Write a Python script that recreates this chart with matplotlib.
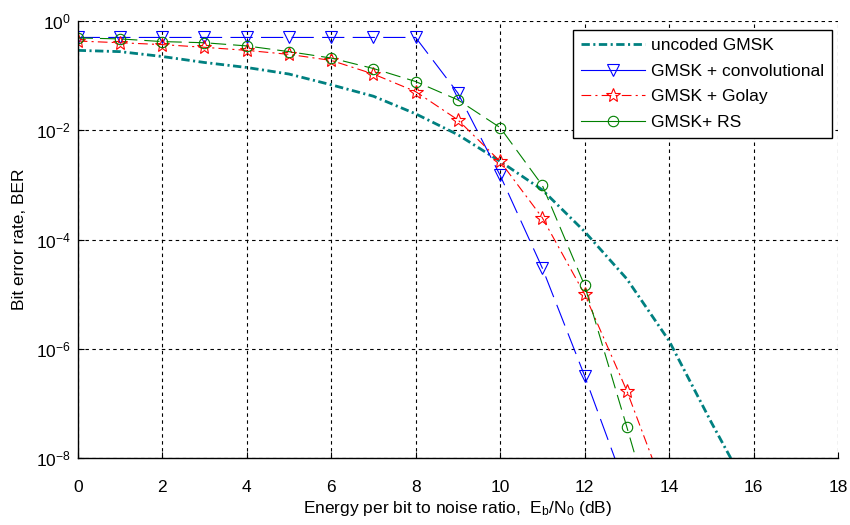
import numpy as np
import matplotlib
matplotlib.use("Agg")
import matplotlib.pyplot as plt
from matplotlib.lines import Line2D
from matplotlib.ticker import FixedLocator, NullLocator, FuncFormatter

plt.rcParams["font.family"] = ["Liberation Sans", "DejaVu Sans"]
plt.rcParams["mathtext.fontset"] = "custom"
plt.rcParams["mathtext.rm"] = "Liberation Sans"
plt.rcParams["mathtext.it"] = "Liberation Sans:italic"
plt.rcParams["lines.scale_dashes"] = False

# ---- data (Eb/N0 in dB, BER) ----
snr_uncoded = [0, 1, 2, 3, 4, 5, 6, 7, 8, 9, 10, 11, 12, 13, 14, 15, 16]
ber_uncoded = [2.9e-1, 2.75e-1, 2.24e-1, 1.74e-1, 1.41e-1, 1.07e-1, 6.8e-2, 4.2e-2,
               2.0e-2, 8.3e-3, 2.7e-3, 8.1e-4, 1.4e-4, 1.9e-5, 1.4e-6, 4.5e-8, 1.7e-9]

snr_conv = [0, 1, 2, 3, 4, 5, 6, 7, 8, 9, 10, 11, 12, 13]
ber_conv = [5.0e-1, 5.0e-1, 5.0e-1, 5.0e-1, 5.0e-1, 5.0e-1, 5.0e-1, 5.0e-1, 5.0e-1,
            4.8e-2, 1.5e-3, 3.0e-5, 3.2e-7, 2.5e-9]

snr_golay = [0, 1, 2, 3, 4, 5, 6, 7, 8, 9, 10, 11, 12, 13, 14]
ber_golay = [4.3e-1, 4.0e-1, 3.7e-1, 3.3e-1, 2.9e-1, 2.45e-1, 1.9e-1, 1.07e-1, 5.1e-2,
             1.55e-2, 2.7e-3, 2.5e-4, 1.0e-5, 1.7e-7, 1.5e-9]

snr_rs = [0, 1, 2, 3, 4, 5, 6, 7, 8, 9, 10, 11, 12, 13, 14]
ber_rs = [4.9e-1, 4.7e-1, 4.2e-1, 4.0e-1, 3.5e-1, 2.75e-1, 2.1e-1, 1.35e-1, 7.8e-2,
          3.6e-2, 1.12e-2, 9.8e-4, 1.45e-5, 3.7e-8, 8e-11]

labels = ["uncoded GMSK", "GMSK + convolutional", "GMSK + Golay", "GMSK+ RS"]
yticks = [1e-8, 1e-6, 1e-4, 1e-2, 1e0]
xticks = [0, 2, 4, 6, 8, 10, 12, 14, 16, 18]

teal = (0.0, 0.5, 0.5)
blue = (0.0, 0.0, 1.0)
red = (1.0, 0.0, 0.0)
green = (0.0, 0.5, 0.0)
FS = 12.5

fig = plt.figure(figsize=(8.5, 5.25), dpi=100)
ax = fig.add_axes([0.0914, 0.1276, 0.8945, 0.8324])

ax.plot(snr_uncoded, ber_uncoded, color=teal, lw=2.0, dashes=(6, 2.5, 1.5, 2.5))
ax.plot(snr_conv, ber_conv, color=blue, lw=0.8, dashes=(16, 6),
        marker="v", ms=9, mfc="none", mec=blue, mew=0.8)
ax.plot(snr_golay, ber_golay, color=red, lw=0.8, dashes=(7, 3, 1.5, 3),
        marker="*", ms=10, mfc="none", mec=red, mew=0.8)
ax.plot(snr_rs, ber_rs, color=green, lw=0.8, dashes=(11, 5),
        marker="o", ms=7.5, mfc="none", mec=green, mew=0.8)

ax.set_yscale("log")
ax.set_xlim(0, 18)
ax.set_ylim(1e-8, 1)
ax.xaxis.set_major_locator(FixedLocator(xticks))
ax.yaxis.set_major_locator(FixedLocator(yticks))
ax.yaxis.set_minor_locator(NullLocator())
ax.yaxis.set_major_formatter(FuncFormatter(
    lambda v, p: r"$\mathregular{10^{%d}}$" % int(round(np.log10(v)))))
ax.tick_params(direction="in", length=4, width=0.8, labelsize=FS)
ax.tick_params(axis="x", pad=16)
ax.tick_params(axis="y", pad=5)

ax.grid(True, color="black", lw=0.8, dashes=(2.5, 2.5))
ax.spines["top"].set_visible(False)
ax.spines["right"].set_visible(False)
for s in ("left", "bottom"):
    ax.spines[s].set_linewidth(1.0)

ax.set_xlabel(r"Energy per bit to noise ratio,  E$_\mathregular{b}$/N$_\mathregular{0}$ (dB)",
              fontsize=FS, labelpad=3)
ax.set_ylabel("Bit error rate, BER", fontsize=FS, labelpad=6)

handles = [
    Line2D([], [], color=teal, lw=2.0, dashes=(6, 2.5, 1.5, 2.5)),
    Line2D([], [], color=blue, lw=0.8, marker="v", ms=9, mfc="none", mec=blue, mew=0.8),
    Line2D([], [], color=red, lw=0.8, dashes=(7, 3, 1.5, 3), marker="*", ms=10,
           mfc="none", mec=red, mew=0.8),
    Line2D([], [], color=green, lw=0.8, marker="o", ms=7.5, mfc="none", mec=green, mew=0.8),
]
leg = ax.legend(handles, labels, loc="upper right", bbox_to_anchor=(0.992, 0.979),
                borderaxespad=0, fontsize=FS, handlelength=3.7, handletextpad=0.35,
                labelspacing=0.6, borderpad=0.45, fancybox=False, framealpha=1)
leg.get_frame().set_edgecolor("black")
leg.get_frame().set_linewidth(1.0)

fig.savefig("out.png", dpi=100, facecolor="white")
